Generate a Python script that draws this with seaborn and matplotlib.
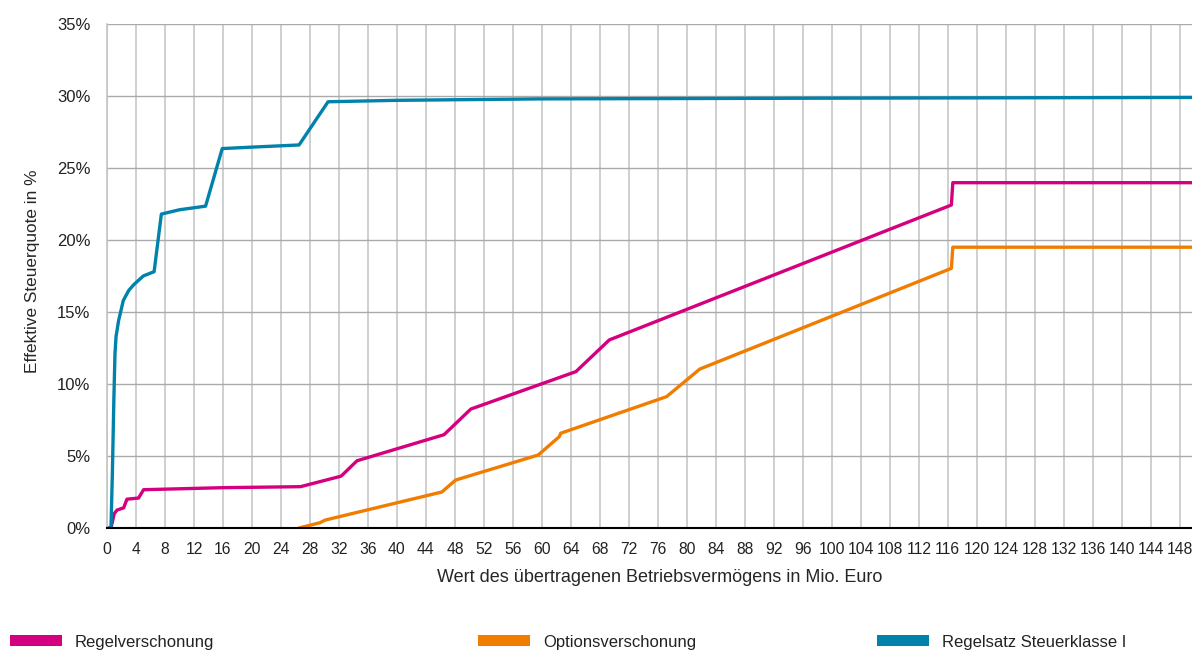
import matplotlib
matplotlib.use("Agg")
import matplotlib.pyplot as plt
import seaborn as sns
import pandas as pd
from matplotlib.patches import Patch
from matplotlib.ticker import FuncFormatter, MultipleLocator

# ---- data (x in Mio. Euro, y in %) ----
regel_x = [0, 0.55, 1.0, 1.4, 2.3, 2.75, 4.35, 5.05, 16.0, 26.7, 32.3, 34.5,
           46.5, 50.2, 64.7, 69.3, 116.5, 116.7, 150]
regel_y = [0, 0, 1.0, 1.25, 1.4, 2.0, 2.08, 2.66, 2.8, 2.87, 3.6, 4.67,
           6.48, 8.26, 10.86, 13.06, 22.43, 23.98, 23.98]

option_x = [26.5, 29.4, 30.1, 46.2, 48.1, 59.5, 62.4, 62.6, 77.2, 81.8,
            116.5, 116.7, 150]
option_y = [0, 0.37, 0.55, 2.5, 3.33, 5.07, 6.34, 6.58, 9.12, 11.04,
            18.03, 19.5, 19.5]

satz_x = [0, 0.55, 0.75, 0.95, 1.1, 1.25, 1.6, 2.25, 3.0, 3.7, 5.0, 6.5,
          7.5, 10.0, 13.6, 15.9, 20.0, 26.5, 30.5, 40, 60, 100, 150]
satz_y = [0, 0, 4.0, 9.0, 12.1, 13.3, 14.4, 15.8, 16.5, 16.9, 17.5, 17.8,
          21.8, 22.1, 22.35, 26.35, 26.45, 26.6, 29.6, 29.7, 29.8, 29.85, 29.9]

series_names = ["Regelverschonung", "Optionsverschonung", "Regelsatz Steuerklasse I"]
series_colors = ["#D5007F", "#F07D00", "#0082AA"]

x_label = "Wert des übertragenen Betriebsvermögens in Mio. Euro"
y_label = "Effektive Steuerquote in %"

df = pd.concat([
    pd.DataFrame({"x": regel_x, "y": regel_y, "series": series_names[0]}),
    pd.DataFrame({"x": option_x, "y": option_y, "series": series_names[1]}),
    pd.DataFrame({"x": satz_x, "y": satz_y, "series": series_names[2]}),
], ignore_index=True)

sns.set_style("white")
plt.rcParams['font.family'] = ['Liberation Sans', 'DejaVu Sans']
plt.rcParams['text.color'] = '#222222'

W, H = 1192, 653
fig = plt.figure(figsize=(W / 100, H / 100), dpi=100)
ax = fig.add_axes([107 / W, 1 - 528 / H, (W - 107) / W, (528 - 24) / H])

sns.lineplot(data=df, x="x", y="y", hue="series",
             palette=dict(zip(series_names, series_colors)),
             estimator=None, sort=False, linewidth=2.4, legend=False, ax=ax)

ax.set_xlim(0, 149.7)
ax.set_ylim(0, 35)
ax.xaxis.set_major_locator(MultipleLocator(4))
ax.yaxis.set_major_locator(MultipleLocator(5))
ax.yaxis.set_major_formatter(FuncFormatter(lambda v, p: f"{v:.0f}%"))

ax.grid(axis='x', color='#cccccc', linewidth=1.3)
ax.grid(axis='y', color='#aaaaaa', linewidth=1.0)
ax.set_axisbelow(True)

for s in ["top", "right"]:
    ax.spines[s].set_visible(False)
ax.spines["left"].set_color("#c4c4c4")
ax.spines["left"].set_linewidth(1.2)
ax.spines["bottom"].set_color("black")
ax.spines["bottom"].set_linewidth(1.5)

ax.tick_params(axis='x', length=5, width=1.2, color='black', direction='out',
               pad=5, labelsize=11.3, labelcolor='#222222')
ax.tick_params(axis='y', length=0, pad=12, labelsize=12, labelcolor='#222222')

ax.set_xlabel(x_label, fontsize=13)
ax.xaxis.set_label_coords((660 - 107) / (W - 107), (528 - 578) / 504)
ax.xaxis.label.set_va('center')
ax.set_ylabel(y_label, fontsize=12.4)
ax.yaxis.set_label_coords((33 - 107) / (W - 107), (528 - 271) / 504)
ax.yaxis.label.set_va('center')

for name, col, xpx in zip(series_names, series_colors, [10, 478, 877]):
    fig.legend(handles=[Patch(facecolor=col, edgecolor='none', label=name)],
               loc='center left', bbox_to_anchor=(xpx / W, 11 / H),
               frameon=False, fontsize=12, handlelength=3.1,
               handleheight=0.65, handletextpad=0.8, borderpad=0,
               borderaxespad=0)

fig.savefig("out.png", dpi=100)
